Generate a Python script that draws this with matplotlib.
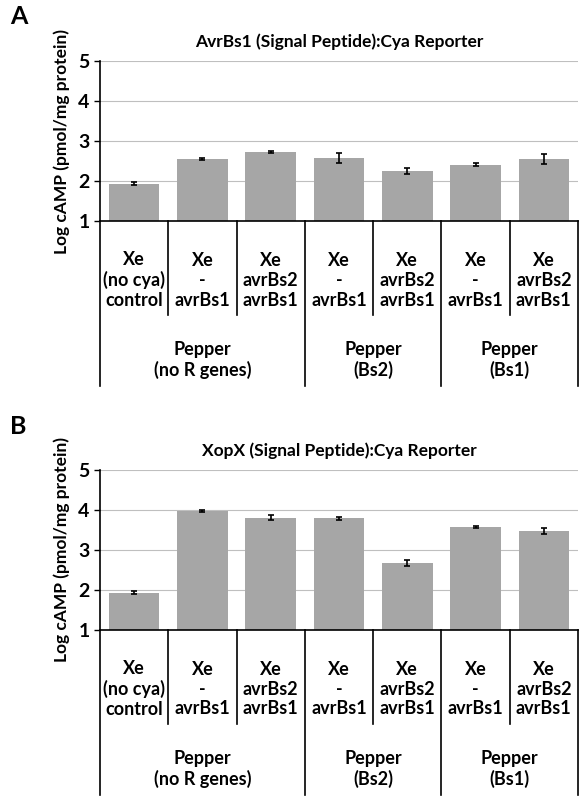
import matplotlib.pyplot as plt

plt.rcParams["font.family"] = ["Lato", "DejaVu Sans"]
plt.rcParams["font.weight"] = "bold"

strains = ["Xe\n(no cya)\ncontrol", "Xe\n-\navrBs1", "Xe\navrBs2\navrBs1",
           "Xe\n-\navrBs1", "Xe\navrBs2\navrBs1", "Xe\n-\navrBs1", "Xe\navrBs2\navrBs1"]
groups = ["Pepper\n(no R genes)", "Pepper\n(Bs2)", "Pepper\n(Bs1)"]
group_sizes = [3, 2, 2]

a_vals = [1.93, 2.55, 2.73, 2.58, 2.25, 2.41, 2.55]
a_err = [0.04, 0.02, 0.03, 0.12, 0.08, 0.04, 0.12]
b_vals = [1.93, 3.97, 3.81, 3.79, 2.68, 3.58, 3.47]
b_err = [0.04, 0.02, 0.07, 0.04, 0.07, 0.02, 0.07]

panels = [("A", "AvrBs1 (Signal Peptide):Cya Reporter", a_vals, a_err, 61),
          ("B", "XopX (Signal Peptide):Cya Reporter", b_vals, b_err, 470)]

fig = plt.figure(figsize=(5.86, 8), dpi=100)
W, H = 586, 800
left, right = 100, 578

for letter, title, vals, err, top in panels:
    bottom = top + 160
    ax = fig.add_axes([left / W, 1 - bottom / H, (right - left) / W, 160 / H])
    x = range(len(vals))
    ax.set_axisbelow(True)
    ax.yaxis.grid(True, color="#bfbfbf", lw=0.8)
    ax.bar(x, [v - 1 for v in vals], bottom=1, width=0.74, color="#a6a6a6")
    ax.errorbar(x, vals, yerr=err, fmt="none", ecolor="black", elinewidth=1.2, capsize=2, capthick=1.2)
    ax.set_xlim(-0.5, len(vals) - 0.5)
    ax.set_ylim(1, 5)
    ax.set_yticks([1, 2, 3, 4, 5])
    ax.tick_params(axis="y", labelsize=14, length=4, width=1)
    ax.set_xticks([])
    for s in ["top", "right"]:
        ax.spines[s].set_visible(False)
    ax.spines["left"].set_linewidth(1.2)
    ax.spines["bottom"].set_linewidth(1.2)
    ax.set_ylabel("Log cAMP (pmol/mg protein)", fontsize=12.5, fontweight="bold", labelpad=6)
    ax.set_title(title, fontsize=12.5, fontweight="bold", pad=10)
    fig.text(10 / W, 1 - (top - 44) / H, letter, fontsize=18, fontweight="bold", va="center")

    tr = ax.get_xaxis_transform()
    row_bot, grp_bot = -94 / 160, -165 / 160
    for i, lab in enumerate(strains):
        ax.text(i, -0.37, lab, transform=tr, ha="center", va="center",
                fontsize=13, linespacing=1.2)
    # left edge and group boundaries
    edges = [-0.5]
    pos = -0.5
    for g in group_sizes:
        pos += g
        edges.append(pos)
    for e in edges:
        ax.plot([e, e], [0, grp_bot], transform=tr, color="black", lw=1.2, clip_on=False)
    for i in range(len(strains) - 1):
        e = i + 0.5
        if e not in edges:
            ax.plot([e, e], [0, row_bot], transform=tr, color="black", lw=1.2, clip_on=False)
    for j, lab in enumerate(groups):
        c = (edges[j] + edges[j + 1]) / 2
        ax.text(c, -0.87, lab, transform=tr, ha="center", va="center",
                fontsize=13, linespacing=1.2)

fig.savefig("out.png", dpi=100)
